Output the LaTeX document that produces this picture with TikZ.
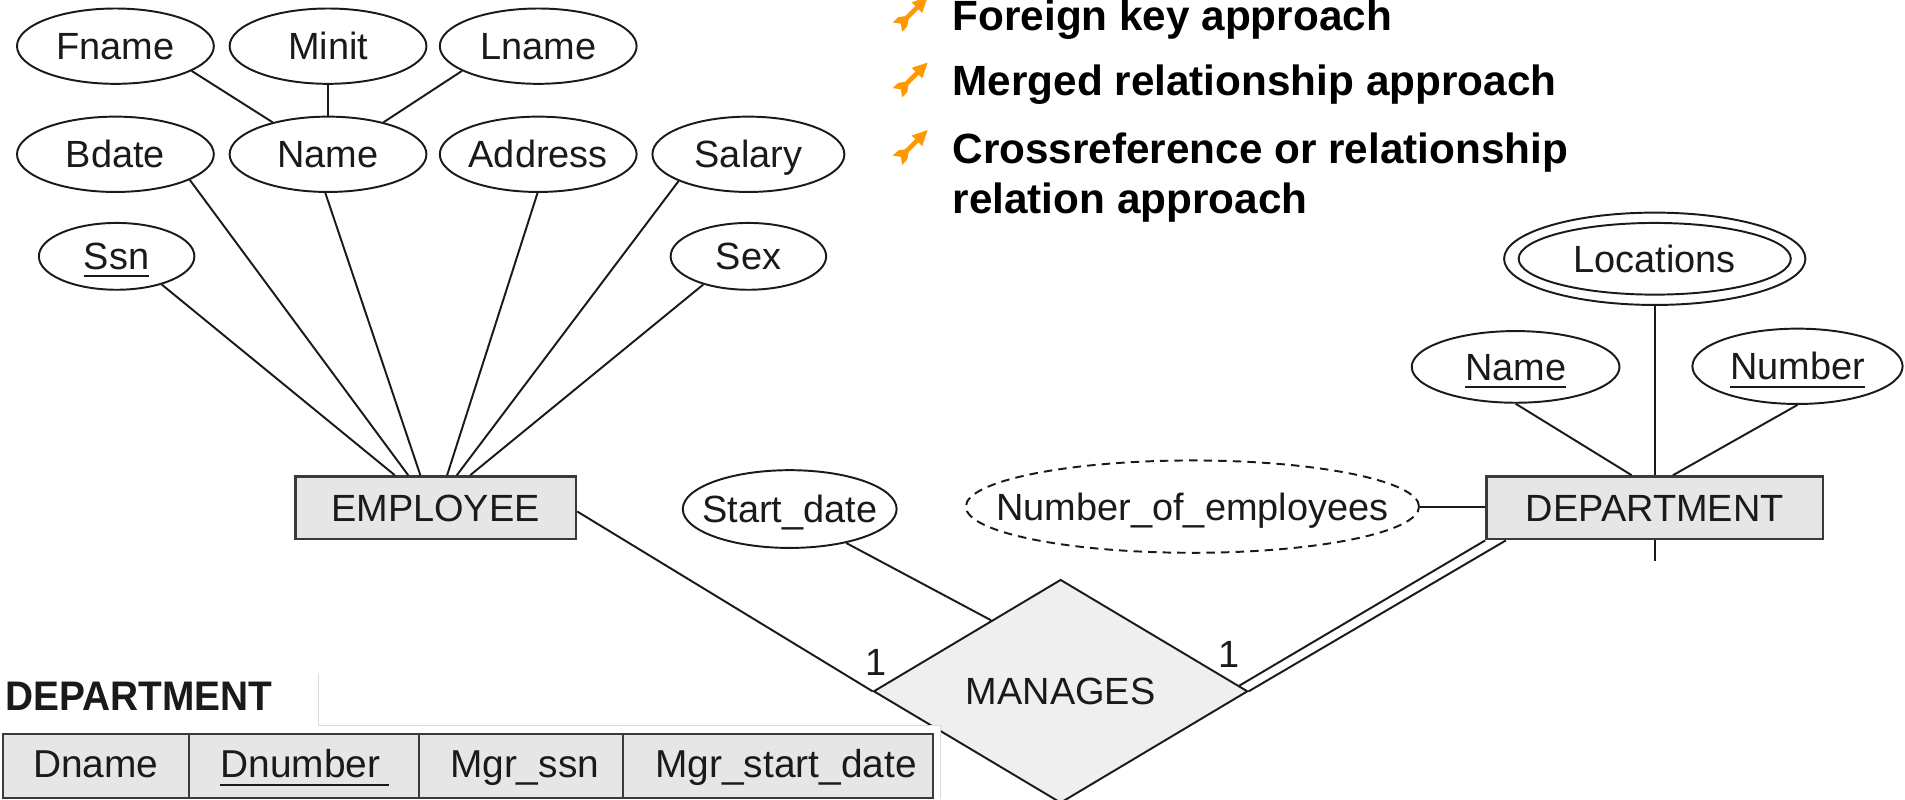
\documentclass[tikz,border=0pt]{standalone}
\usepackage{fontspec}
\setmainfont{Liberation Sans}
\newfontfamily\labfont[FakeStretch=0.94]{Liberation Sans}
\usetikzlibrary{shapes.geometric,calc}
\definecolor{boxfill}{HTML}{E6E6E6}
\definecolor{dmdfill}{HTML}{EFEFEF}
\definecolor{bordr}{HTML}{3A3A3A}
\definecolor{panelln}{HTML}{DADADA}
\definecolor{dartor}{HTML}{FF9900}
\definecolor{inkc}{HTML}{1A1A1A}
\newcommand{\zt}[1]{\makebox[0pt]{#1}}
\newcommand{\myul}[3]{\setbox0=\hbox{#3}\rlap{\rule[-#1]{\dimexpr\wd0+#2\relax}{0.75pt}}\box0}
\tikzset{
 attr/.style={ellipse, draw=inkc, line width=0.8pt, inner sep=0pt, text height=11.2pt, text depth=0pt, text=inkc},
 ell/.style 2 args={attr, minimum width=#1, minimum height=#2},
 ent/.style={rectangle, draw=bordr, line width=1.1pt, fill=boxfill, inner sep=0pt, text height=11.2pt, text depth=0pt, text=inkc},
 rel/.style={diamond, draw=inkc, line width=0.8pt, fill=dmdfill, inner sep=0pt, minimum width=154pt, minimum height=92pt, text height=11.2pt, text depth=0pt, text=inkc},
 conn/.style={draw=inkc, line width=0.8pt},
 card/.style={inner sep=0pt, text height=11.2pt, text depth=0pt, text=inkc},
 cell/.style={rectangle, draw=bordr, line width=1pt, fill=boxfill, minimum height=26.5pt, inner sep=0pt, outer sep=0pt, anchor=west},
 ttext/.style={inner sep=0pt, anchor=base west, font=\fontsize{16}{19}\selectfont, text=inkc},
 tlabel/.style={inner sep=0pt, anchor=base west, font=\labfont\bfseries\fontsize{17}{20}\selectfont, text=inkc},
 bul/.style={inner sep=0pt, anchor=base west, font=\bfseries\fontsize{17.4}{20}\selectfont, text=black},
 dart/.pic={
   \fill[dartor] (24.5,-24.5) -- (20.1,-11.4) -- (11.4,-20.1) -- cycle;
   \draw[dartor, line width=1.9pt] (4,-4) -- (17,-17);
   \fill[dartor] (2.5,-2.5) -- (3.5,4.2) -- (7.8,-0.3) -- (9.2,-9.2) -- (0.3,-7.8) -- (-4.2,-3.5) -- cycle;
 }
}
\begin{document}
\begin{tikzpicture}[x=0.5pt, y=-0.5pt, font=\fontsize{15.6}{18}\selectfont]
\useasboundingbox (0,0) rectangle (1568,658);
\clip (0,0) rectangle (1568,658);
\fill[white] (0,0) rectangle (1568,658);

% EMPLOYEE attributes
\node[ell={81pt}{31pt}] (Fname) at (95,38) {\zt{Fname}};
\node[ell={81pt}{31pt}] (Minit) at (270,38) {\zt{Minit}};
\node[ell={81pt}{31pt}] (Lname) at (443,38) {\zt{Lname}};
\node[ell={81pt}{31pt}] (Bdate) at (95,127) {\zt{Bdate}};
\node[ell={81pt}{31pt}] (Name) at (270,127) {\zt{Name}};
\node[ell={81pt}{31pt}] (Addr) at (443,127) {\zt{Address}};
\node[ell={79pt}{31pt}] (Sal) at (616,127) {\zt{Salary}};
\node[ell={64pt}{27.5pt}] (Ssn) at (96,211) {\zt{\myul{2.8pt}{0pt}{Ssn}}};
\node[ell={64pt}{27.5pt}] (Sex) at (616,211) {\zt{Sex}};

\node[ent, minimum width=115.5pt, minimum height=25.75pt] (EMP) at (358.5,418) {EMPLOYEE};

% relationship attributes
\node[ell={88pt}{32pt}] (SD) at (650,419) {\zt{Start\_date}};
\node[ell={186.5pt}{38pt}, dash pattern=on 3.5pt off 2.5pt] (NOE) at (981.5,417) {\zt{Number\_of\_employees}};

% DEPARTMENT
\node[ent, minimum width=138.5pt, minimum height=25.75pt] (DEPT) at (1362,418) {DEPARTMENT};
\node[ell={85.5pt}{29.5pt}] (DName) at (1247.5,302) {\zt{\myul{3.2pt}{0pt}{Name}}};
\node[ell={86.5pt}{31pt}] (DNum) at (1479.5,301.5) {\zt{\myul{3.2pt}{0pt}{Number}}};
\node[ell={124pt}{38pt}] (LocO) at (1362,213) {};
\node[ell={112pt}{29.5pt}] (Loc) at (1362,213) {\zt{Locations}};
\coordinate (stub) at (1362,462);

% MANAGES
\node[rel] (MAN) at (873,569) {\zt{MANAGES}};
\node[card] (one1) at (721,545) {1};
\node[card] (one2) at (1012,538) {1};

% connectors
\draw[conn] (Fname.-18) -- (Name.150);
\draw[conn] (Minit) -- (Name);
\draw[conn] (Lname.-162) -- (Name.30);
\draw[conn] (Ssn.-32) -- ([xshift=-16.75pt]EMP.north);
\draw[conn] (Bdate.-19) -- ([xshift=-11.25pt]EMP.north);
\draw[conn] (Name.-94) -- ([xshift=-6.25pt]EMP.north);
\draw[conn] (Addr.-91) -- ([xshift=4.75pt]EMP.north);
\draw[conn] (Sal.-159) -- ([xshift=8.75pt]EMP.north);
\draw[conn] (Sex.-148) -- ([xshift=14.25pt]EMP.north);
\draw[conn] ([yshift=-1.5pt]EMP.east) -- (MAN.west);
\draw[conn] (SD.-31) -- ($(MAN.west)!0.63!(MAN.north)$);
\draw[conn] (NOE.east) -- (NOE.east -| DEPT.west);
\draw[conn] (DName.south) -- ([xshift=-9.5pt]DEPT.north);
\draw[conn] (LocO.south) -- (DEPT.north);
\draw[conn] (DNum.south) -- ([xshift=7.5pt]DEPT.north);
\draw[conn] (DEPT.south) -- (stub);
\draw[conn] (DEPT.south west) -- ($(MAN.east)!0.05!(MAN.north)$);
\draw[conn] ([xshift=8.5pt]DEPT.south west) -- (MAN.east);

% bullets
\pic at (739,22) {dart};
\pic at (739,76) {dart};
\pic at (739,131.6) {dart};
\node[bul] (B1) at (783.7,25) {Foreign key approach};
\node[bul] (B2) at (783.7,78.8) {Merged relationship approach};
\node[bul] (B3) at (783.7,134.4) {Crossreference or relationship};
\node[bul] (B3b) at (783.7,175.5) {relation approach};

% overlaid relation schema panel
\fill[white] (0,554) rectangle (262,597);
\fill[white] (0,597) rectangle (774,658);
\draw[panelln, line width=0.6pt] (262,554) -- (262,597) -- (774,597) -- (774,658);
\node[tlabel] (TLab) at (4,585) {DEPARTMENT};
\node[cell, minimum width=76.5pt] (C1) at (2.5,630.5) {};
\node[cell, minimum width=94.75pt] (C2) at (C1.east) {};
\node[cell, minimum width=84pt] (C3) at (C2.east) {};
\node[cell, minimum width=127.5pt] (C4) at (C3.east) {};
\node[ttext] (T1) at (27,640) {Dname};
\node[ttext] (T2) at (181,640) {\myul{3.6pt}{3.75pt}{Dnumber}};
\node[ttext] (T3) at (370,640) {Mgr\_ssn};
\node[ttext] (T4) at (539,640) {Mgr\_start\_date};
\end{tikzpicture}
\end{document}
